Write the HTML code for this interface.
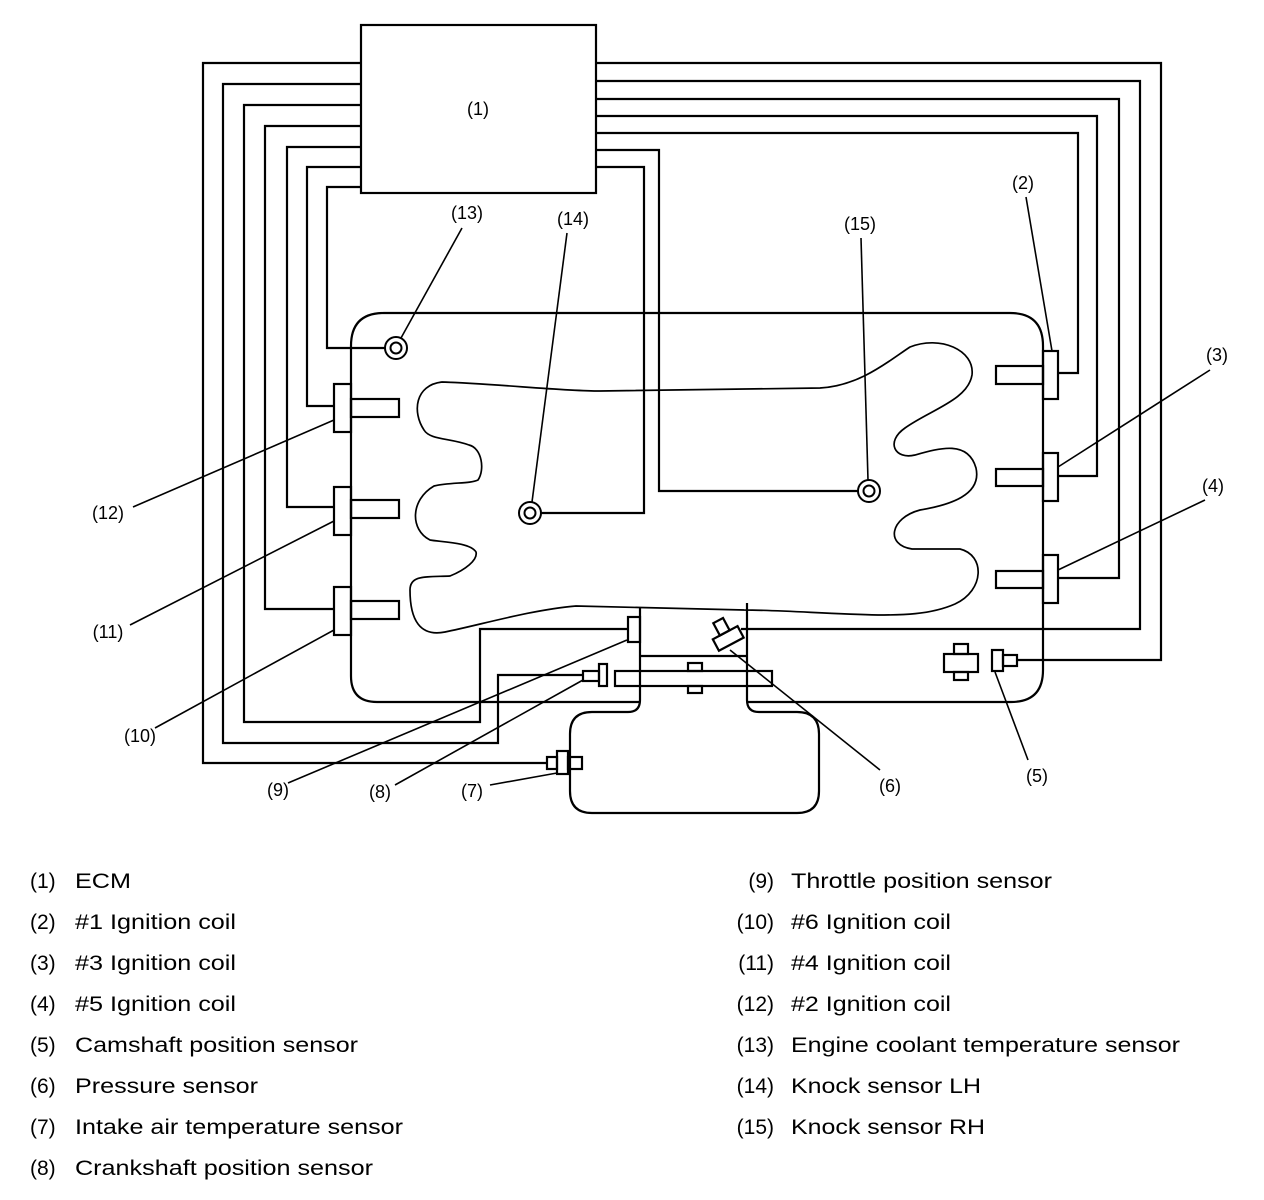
<!DOCTYPE html>
<html><head><meta charset="utf-8"><style>
html,body{margin:0;padding:0;background:#fff;}
svg{display:block;}
text{font-family:"Liberation Sans",Arial,sans-serif;fill:#000;}
</style></head><body>
<svg width="1264" height="1200" viewBox="0 0 1264 1200" xmlns="http://www.w3.org/2000/svg">
<g fill="none" stroke="#000" stroke-width="2.2" stroke-linejoin="miter">
<rect x="361" y="25" width="235" height="168" />
<polyline points="361,63 203,63 203,763 547,763"/>
<polyline points="361,84 223,84 223,743 498,743 498,675 583,675"/>
<polyline points="361,105 244,105 244,722 480,722 480,629 628,629"/>
<polyline points="361,126 265,126 265,609 334,609"/>
<polyline points="361,147 287,147 287,507 334,507"/>
<polyline points="361,167 307,167 307,406 334,406"/>
<polyline points="361,187 327,187 327,348 385,348"/>
<polyline points="596,63 1161,63 1161,660 1017,660"/>
<polyline points="596,81 1140,81 1140,629 741,629"/>
<polyline points="596,99 1119,99 1119,578 1058,578"/>
<polyline points="596,116 1097,116 1097,476 1058,476"/>
<polyline points="596,133 1078,133 1078,373 1058,373"/>
<polyline points="596,150 659,150 659,491 858,491"/>
<polyline points="596,167 644,167 644,513 541,513"/>
<path d="M640,702 L377,702 Q351,702 351,676 L351,346 Q351,313 384,313 L1010,313 Q1043,313 1043,346 L1043,670 Q1043,702 1011,702 L747,702"/>
<path d="M640,607 L640,700 Q640,712 628,712 L592,712 Q570,712 570,734 L570,791 Q570,813 592,813 L797,813 Q819,813 819,791 L819,734 Q819,712 797,712 L759,712 Q747,712 747,700 L747,603"/>
<line x1="640" y1="656" x2="747" y2="656"/>
<rect x="615" y="671" width="157" height="15"/>
<rect x="688" y="663" width="14" height="8"/>
<rect x="688" y="686" width="14" height="7"/>
<rect x="583" y="671" width="16" height="10"/>
<rect x="599" y="664" width="8" height="22"/>
<rect x="628" y="617" width="12" height="25"/>
<rect x="557" y="751" width="11" height="23"/>
<rect x="547" y="757" width="10" height="12"/>
<rect x="568" y="757" width="14" height="12"/>
<g transform="translate(728,638) rotate(-28)">
<rect x="-14" y="-6" width="28" height="13"/>
<rect x="-6" y="-20" width="11" height="14"/>
</g>
<rect x="992" y="650" width="11" height="21"/>
<rect x="1003" y="655" width="14" height="11"/>
<rect x="944" y="654" width="34" height="18"/>
<rect x="954" y="644" width="14" height="10"/>
<rect x="954" y="672" width="14" height="8"/>
<rect x="1043" y="351" width="15" height="48"/>
<rect x="996" y="366" width="47" height="18"/>
<rect x="1043" y="453" width="15" height="48"/>
<rect x="996" y="469" width="47" height="17"/>
<rect x="1043" y="555" width="15" height="48"/>
<rect x="996" y="571" width="47" height="17"/>
<rect x="334" y="384" width="17" height="48"/>
<rect x="351" y="399" width="48" height="18"/>
<rect x="334" y="487" width="17" height="48"/>
<rect x="351" y="500" width="48" height="18"/>
<rect x="334" y="587" width="17" height="48"/>
<rect x="351" y="601" width="48" height="18"/>
</g>
<path fill="none" stroke="#000" stroke-width="1.7" d="M442,382 C500,384 560,391 600,391 L820,388 C860,386 890,360 910,347 C940,335 975,350 972,375 C968,400 930,410 905,428 C885,442 895,460 915,455 C940,448 968,440 976,468 C982,495 950,505 920,510 C890,518 885,545 912,549 L960,549 C985,555 985,590 955,604 C930,615 900,615 878,615 C830,614 780,610 744,610 L576,606 C530,610 480,625 445,632 C420,637 410,620 410,590 C410,575 425,577 450,576 C465,570 478,560 476,552 C470,542 440,542 430,540 C410,530 410,500 434,486 C450,482 470,484 478,480 C485,470 482,448 469,445 C450,438 430,440 424,430 C412,412 415,385 442,382 Z"/>
<g fill="#fff" stroke="#000" stroke-width="2">
<circle cx="396" cy="348" r="11"/><circle cx="396" cy="348" r="5.5"/>
<circle cx="530" cy="513" r="11"/><circle cx="530" cy="513" r="5.5"/>
<circle cx="869" cy="491" r="11"/><circle cx="869" cy="491" r="5.5"/>
</g>
<g stroke="#000" stroke-width="1.6">
<line x1="288" y1="783" x2="627" y2="640"/>
<line x1="395" y1="785" x2="583" y2="680"/>
<line x1="490" y1="785" x2="557" y2="773"/>
<line x1="730" y1="650" x2="880" y2="770"/>
<line x1="995" y1="672" x2="1028" y2="760"/>
<line x1="155" y1="728" x2="334" y2="630"/>
<line x1="130" y1="625" x2="334" y2="521"/>
<line x1="133" y1="507" x2="334" y2="420"/>
<line x1="462" y1="228" x2="401" y2="338"/>
<line x1="567" y1="233" x2="532" y2="502"/>
<line x1="861" y1="238" x2="868" y2="480"/>
<line x1="1026" y1="197" x2="1052" y2="351"/>
<line x1="1210" y1="370" x2="1058" y2="467"/>
<line x1="1205" y1="500" x2="1058" y2="570"/>
</g>
<g font-size="18" text-anchor="middle">
<text x="478" y="115">(1)</text>
<text x="1023" y="189">(2)</text>
<text x="1217" y="361">(3)</text>
<text x="1213" y="492">(4)</text>
<text x="1037" y="782">(5)</text>
<text x="890" y="792">(6)</text>
<text x="472" y="797">(7)</text>
<text x="380" y="798">(8)</text>
<text x="278" y="796">(9)</text>
<text x="140" y="742">(10)</text>
<text x="108" y="638">(11)</text>
<text x="108" y="519">(12)</text>
<text x="467" y="219">(13)</text>
<text x="573" y="225">(14)</text>
<text x="860" y="230">(15)</text>
</g>
<g font-size="21" lengthAdjust="spacingAndGlyphs">
<text x="30" y="888">(1)</text><text x="75" y="888" textLength="56" lengthAdjust="spacingAndGlyphs">ECM</text>
<text x="30" y="929">(2)</text><text x="75" y="929" textLength="161" lengthAdjust="spacingAndGlyphs">#1 Ignition coil</text>
<text x="30" y="970">(3)</text><text x="75" y="970" textLength="161" lengthAdjust="spacingAndGlyphs">#3 Ignition coil</text>
<text x="30" y="1011">(4)</text><text x="75" y="1011" textLength="161" lengthAdjust="spacingAndGlyphs">#5 Ignition coil</text>
<text x="30" y="1052">(5)</text><text x="75" y="1052" textLength="283" lengthAdjust="spacingAndGlyphs">Camshaft position sensor</text>
<text x="30" y="1093">(6)</text><text x="75" y="1093" textLength="183" lengthAdjust="spacingAndGlyphs">Pressure sensor</text>
<text x="30" y="1134">(7)</text><text x="75" y="1134" textLength="328" lengthAdjust="spacingAndGlyphs">Intake air temperature sensor</text>
<text x="30" y="1175">(8)</text><text x="75" y="1175" textLength="298" lengthAdjust="spacingAndGlyphs">Crankshaft position sensor</text>
</g>
<g font-size="21">
<text x="774" y="888" text-anchor="end">(9)</text><text x="791" y="888" textLength="261" lengthAdjust="spacingAndGlyphs">Throttle position sensor</text>
<text x="774" y="929" text-anchor="end">(10)</text><text x="791" y="929" textLength="160" lengthAdjust="spacingAndGlyphs">#6 Ignition coil</text>
<text x="774" y="970" text-anchor="end">(11)</text><text x="791" y="970" textLength="160" lengthAdjust="spacingAndGlyphs">#4 Ignition coil</text>
<text x="774" y="1011" text-anchor="end">(12)</text><text x="791" y="1011" textLength="160" lengthAdjust="spacingAndGlyphs">#2 Ignition coil</text>
<text x="774" y="1052" text-anchor="end">(13)</text><text x="791" y="1052" textLength="389" lengthAdjust="spacingAndGlyphs">Engine coolant temperature sensor</text>
<text x="774" y="1093" text-anchor="end">(14)</text><text x="791" y="1093" textLength="190" lengthAdjust="spacingAndGlyphs">Knock sensor LH</text>
<text x="774" y="1134" text-anchor="end">(15)</text><text x="791" y="1134" textLength="194" lengthAdjust="spacingAndGlyphs">Knock sensor RH</text>
</g>
</svg>
</body></html>
